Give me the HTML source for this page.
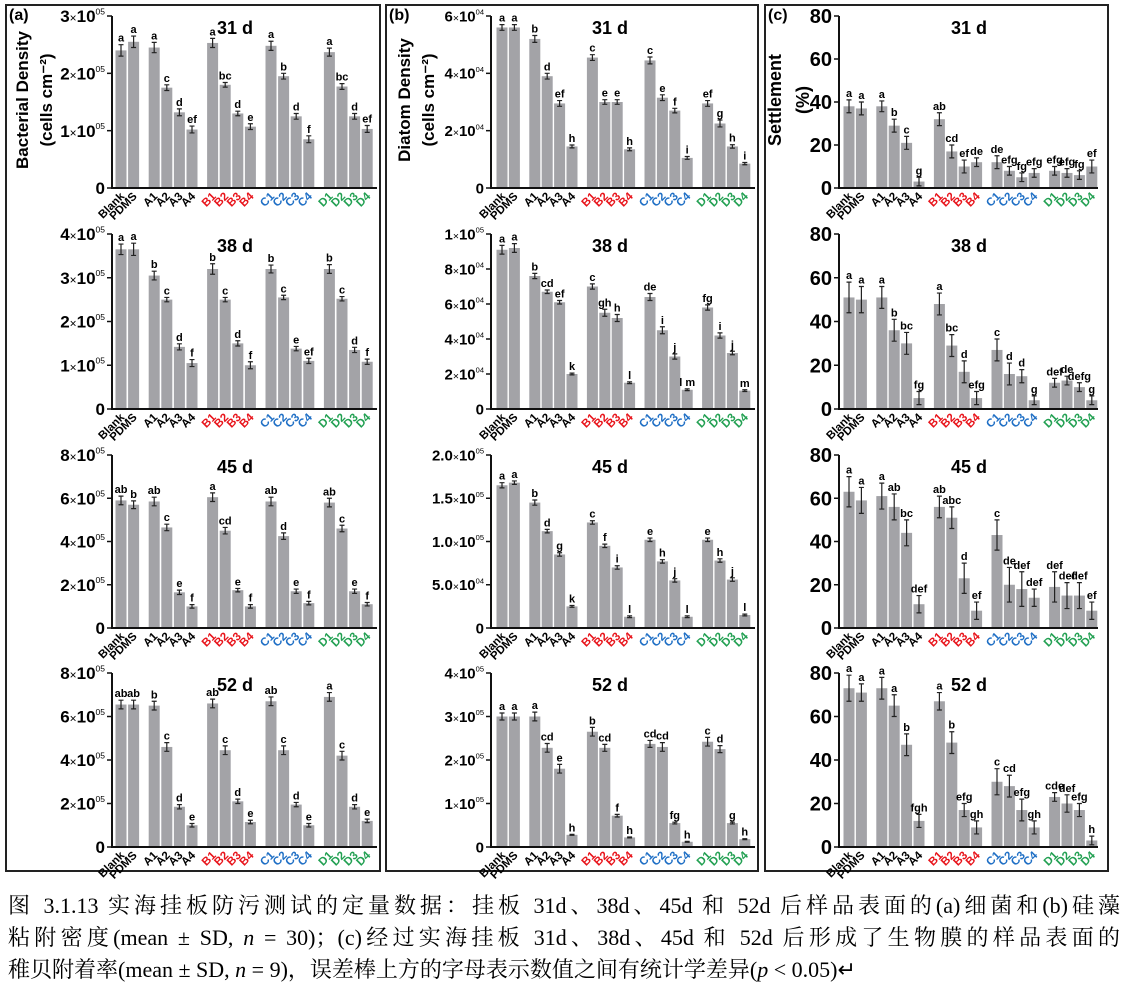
<!DOCTYPE html>
<html><head><meta charset="utf-8">
<style>
body{margin:0;background:#fff;width:1126px;height:1000px;overflow:hidden;position:relative;font-family:"Liberation Sans",sans-serif}
svg{position:absolute;left:0;top:0}
.cap{position:absolute;left:8px;width:1112px;font-family:"Liberation Serif","Noto Serif CJK SC",serif;font-size:22px;white-space:nowrap;line-height:26px;color:#000}
.j{text-align:justify;text-align-last:justify}
</style></head><body>
<svg id="fig" width="1126" height="880" xmlns="http://www.w3.org/2000/svg"></svg>
<div class="cap j" style="top:893px">图 3.1.13 实海挂板防污测试的定量数据：挂板 31d、38d、45d 和 52d 后样品表面的(a)细菌和(b)硅藻</div>
<div class="cap j" style="top:925px">粘附密度(mean ± SD, <i>n</i> = 30)；(c)经过实海挂板 31d、38d、45d 和 52d 后形成了生物膜的样品表面的</div>
<div class="cap" style="top:957px">稚贝附着率(mean ± SD, <i>n</i> = 9)，误差棒上方的字母表示数值之间有统计学差异(<i>p</i> &lt; 0.05)↵</div>
<script>
const categories=["Blank","PDMS","A1","A2","A3","A4","B1","B2","B3","B4","C1","C2","C3","C4","D1","D2","D3","D4"];
const days=["31 d","38 d","45 d","52 d"];
// Panel a (x1e5)
const a31=[2.4,2.55,2.45,1.75,1.32,1.02,2.53,1.8,1.3,1.07,2.48,1.95,1.25,0.85,2.37,1.77,1.25,1.03];
const a38=[3.65,3.65,3.05,2.5,1.42,1.05,3.2,2.5,1.5,1.0,3.2,2.55,1.38,1.1,3.2,2.52,1.35,1.08];
const a45=[5.9,5.7,5.85,4.65,1.65,1.0,6.05,4.5,1.75,1.0,5.85,4.25,1.7,1.15,5.8,4.6,1.7,1.1];
const a52=[6.55,6.55,6.5,4.6,1.85,1.0,6.6,4.45,2.1,1.15,6.7,4.45,1.95,1.0,6.9,4.2,1.85,1.2];
const aL31=["a","a","a","c","d","ef","a","bc","d","e","a","b","d","f","a","bc","d","ef"];
const aL38=["a","a","b","c","d","f","b","c","d","f","b","c","e","ef","b","c","d","f"];
const aL45=["ab","b","ab","c","e","f","a","cd","e","f","ab","d","e","f","ab","c","e","f"];
const aL52=["ab","ab","b","c","d","e","ab","c","d","e","ab","c","d","e","a","c","d","e"];
const aE31=[0.1,0.1,0.09,0.05,0.06,0.06,0.08,0.04,0.04,0.05,0.08,0.05,0.05,0.06,0.07,0.05,0.05,0.06];
const aE38=[0.12,0.14,0.1,0.05,0.07,0.08,0.12,0.05,0.06,0.08,0.09,0.05,0.05,0.06,0.1,0.05,0.06,0.06];
const aE45=[0.2,0.18,0.2,0.15,0.1,0.08,0.2,0.15,0.08,0.08,0.2,0.15,0.1,0.08,0.2,0.15,0.1,0.08];
const aE52=[0.2,0.2,0.2,0.2,0.1,0.08,0.2,0.2,0.1,0.08,0.2,0.2,0.1,0.08,0.2,0.2,0.1,0.08];
// Panel b
const b31=[5.6,5.6,5.2,3.9,2.95,1.45,4.55,3.0,3.0,1.35,4.45,3.15,2.7,1.05,2.95,2.25,1.45,0.85];
const b38=[9.1,9.2,7.6,6.7,6.1,2.0,7.0,5.5,5.2,1.5,6.4,4.5,3.0,1.1,5.8,4.2,3.2,1.05];
const b45=[1.65,1.68,1.45,1.12,0.85,0.25,1.22,0.95,0.7,0.13,1.02,0.77,0.55,0.13,1.02,0.78,0.56,0.15];
const b52=[3.0,3.0,3.0,2.28,1.8,0.28,2.65,2.28,0.72,0.22,2.37,2.3,0.55,0.12,2.42,2.25,0.55,0.18];
const bL31=["a","a","b","d","ef","h","c","e","e","h","c","e","f","i","ef","g","h","i"];
const bL38=["a","a","b","cd","ef","k","c","gh","h","l","de","i","j","l m","fg","i","j","m"];
const bL45=["a","a","b","d","g","k","c","f","i","l","e","h","j","l","e","h","j","l"];
const bL52=["a","a","a","cd","e","h","b","cd","f","h","cd","cd","fg","h","c","d","g","h"];
const bE31=[0.1,0.1,0.12,0.1,0.1,0.05,0.1,0.08,0.08,0.05,0.12,0.1,0.08,0.05,0.1,0.12,0.06,0.04];
const bE38=[0.25,0.25,0.15,0.1,0.1,0.05,0.15,0.2,0.2,0.05,0.2,0.2,0.15,0.05,0.15,0.15,0.1,0.05];
const bE45=[0.03,0.02,0.03,0.02,0.02,0.01,0.02,0.02,0.02,0.01,0.02,0.02,0.02,0.01,0.02,0.02,0.02,0.01];
const bE52=[0.08,0.08,0.1,0.1,0.1,0.01,0.1,0.08,0.03,0.01,0.08,0.1,0.02,0.01,0.1,0.08,0.02,0.01];
// Panel c (%)
const c31=[38,37,38,29,21,3,32,17,10,12,12,8,5,7,8,7,6,10];
const c38=[51,50,51,36,30,5,48,29,17,5,27,16,15,4,12,13,10,4];
const c45=[63,59,61,56,44,11,56,51,23,8,43,20,18,14,19,15,15,8];
const c52=[73,71,73,65,47,12,67,48,17,9,30,28,17,9,23,20,17,3];
const cL31=["a","a","a","b","c","g","ab","cd","ef","de","de","efg","fg","efg","efg","efg","fg","ef"];
const cL38=["a","a","a","b","bc","fg","a","bc","d","efg","c","d","d","g","def","de","defg","g"];
const cL45=["a","a","a","ab","bc","def","ab","abc","d","ef","c","de","def","def","def","def","def","ef"];
const cL52=["a","a","a","a","b","fgh","a","b","efg","gh","c","cd","efg","gh","cde","def","efg","h"];
const cE31=[3,3,2.5,3,3,2,3,3,3,2,3,2,2,2,2,2,2,3];
const cE38=[7,6,5,5,5,3,5,5,5,3,5,5,3,2,2,2,2,2];
const cE45=[7,6,6,6,6,4,5,5,7,4,7,8,8,4,7,6,6,4];
const cE52=[6,4,5,5,5,3,4,5,3,3,6,5,5,3,2,4,3,2];

const NS="http://www.w3.org/2000/svg";
const svg=document.getElementById('fig');
function el(tag,attrs,parent){const e=document.createElementNS(NS,tag);for(const k in attrs)e.setAttribute(k,attrs[k]);(parent||svg).appendChild(e);return e;}
const catColor=i=>i<6?"#000":i<10?"#e8141b":i<14?"#1f6fc5":"#22a052";
const rows=[{y0:188,yt:16},{y0:409,yt:234},{y0:628,yt:455},{y0:847,yt:673}];
const panels=[
 {key:"a",ax:112,x1:377,first:121,s:12.6,g:8,titleX:235,data:[a31,a38,a45,a52],lab:[aL31,aL38,aL45,aL52],err:[aE31,aE38,aE45,aE52],
  max:[3,4,8,8],ticks:[[0,1,2,3],[0,1,2,3,4],[0,2,4,6,8],[0,2,4,6,8]],tfmt:(v,r)=>v===0?"0":[v,"×","10","05"],fs:17,yt1:"Bacterial Density",yt2:"(cells cm⁻²)",ytx:[22,46]},
 {key:"b",ax:491,x1:755,first:502,s:12.4,g:8,titleX:610,data:[b31,b38,b45,b52],lab:[bL31,bL38,bL45,bL52],err:[bE31,bE38,bE45,bE52],
  max:[6,10,2,4],ticks:[[0,2,4,6],[0,2,4,6,8,10],[0,0.5,1,1.5,2],[0,1,2,3,4]],
  tfmt:(v,r)=>{if(v===0)return"0";if(r===0)return[v,"×","10","04"];if(r===1)return v===10?["1","×","10","05"]:[v,"×","10","04"];if(r===2)return v===0.5?["5.0","×","10","04"]:[v.toFixed(1),"×","10","05"];return[v,"×","10","05"];},fs:15,yt1:"Diatom Density",yt2:"(cells cm⁻²)",ytx:[404,428]},
 {key:"c",ax:839,x1:1098,first:849,s:12.4,g:8,titleX:969,data:[c31,c38,c45,c52],lab:[cL31,cL38,cL45,cL52],err:[cE31,cE38,cE45,cE52],
  max:[80,80,80,80],ticks:[[0,20,40,60,80],[0,20,40,60,80],[0,20,40,60,80],[0,20,40,60,80]],tfmt:v=>String(v),fs:20,yt1:"Settlement",yt2:"(%)",ytx:[775,803]}
];
[[6,5,374,866],[386,5,372,866],[765,5,343,866]].forEach((f,i)=>{
 const r=el('rect',{x:f[0],y:f[1],width:f[2],height:f[3],fill:"none",stroke:"#222","stroke-width":2});
 
 
});
panels.forEach((p,pi)=>{
 const pl=el('text',{x:[9,389,768][pi],y:20,"font-size":16,"font-weight":"bold"});pl.textContent="("+p.key+")";
 
 
 const cx=i=>p.first+i*p.s+(i>=2?p.g:0)+(i>=6?p.g:0)+(i>=10?p.g:0)+(i>=14?p.g:0);
 rows.forEach((R,ri)=>{
  const g=el('g',{});
  
  
  const y=v=>R.y0-(v/p.max[ri])*(R.y0-R.yt);
  p.data[ri].forEach((v,i)=>{
   const b=el('rect',{x:cx(i)-5.5,y:y(v),width:11,height:R.y0-y(v),fill:"#a3a3a7"},g);
   
   
   const e=p.err[ri][i],top=y(v+e),bot=y(Math.max(0,v-e));
   const eb=el('path',{d:`M${cx(i)} ${top}V${bot}M${cx(i)-2.5} ${top}H${cx(i)+2.5}M${cx(i)-2.5} ${bot}H${cx(i)+2.5}`,stroke:"#222","stroke-width":1.2,fill:"none"},g);
   
   
   const t=el('text',{x:cx(i),y:top-3,"text-anchor":"middle","font-size":11,"font-weight":"bold"},g);t.textContent=p.lab[ri][i];
   
   
   const c=el('text',{x:0,y:0,"text-anchor":"end","font-size":11.5,"font-weight":"bold",fill:catColor(i),transform:`translate(${cx(i)+4},${R.y0+9}) rotate(-45)`},g);c.textContent=categories[i];
   
   
  });
  const axl=el('path',{d:`M${p.ax} ${R.yt}V${R.y0}H${p.x1}`,stroke:"#111","stroke-width":2,fill:"none"},g);
  
  
  p.ticks[ri].forEach(tv=>{
   const ty=y(tv);
   const tk=el('line',{x1:p.ax-5,x2:p.ax,y1:ty,y2:ty,stroke:"#111","stroke-width":1.5},g);
   
   
   const f=p.tfmt(tv,ri);
   const t=el('text',{x:p.ax-7,y:ty+p.fs*0.36,"text-anchor":"end","font-size":p.fs,"font-weight":"bold"},g);
   
   
   if(typeof f==="string"){t.textContent=f;}
   else{
    const s1=el('tspan',{},t);s1.textContent=f[0];
    const s2=el('tspan',{"font-size":p.fs*0.7,"font-weight":"normal"},t);s2.textContent=f[1];
    const s3=el('tspan',{},t);s3.textContent=f[2];
    const s4=el('tspan',{"font-size":p.fs*0.5,dy:-p.fs*0.45,"font-weight":"normal"},t);s4.textContent=f[3];
   }
  });
  const tt=el('text',{x:p.titleX,y:R.yt+18,"text-anchor":"middle","font-size":18,"font-weight":"bold"},g);tt.textContent=days[ri];
  
  
 });
 const fsT=pi===2?18:17;
 const t1=el('text',{x:0,y:0,"text-anchor":"middle","font-size":fsT,"font-weight":"bold",transform:`translate(${p.ytx[0]+6},${100}) rotate(-90)`});t1.textContent=p.yt1;
 
 
 const t2=el('text',{x:0,y:0,"text-anchor":"middle","font-size":fsT,"font-weight":"bold",transform:`translate(${p.ytx[1]+6},${100}) rotate(-90)`});t2.textContent=p.yt2;
 
 
});
</script>
</body></html>
